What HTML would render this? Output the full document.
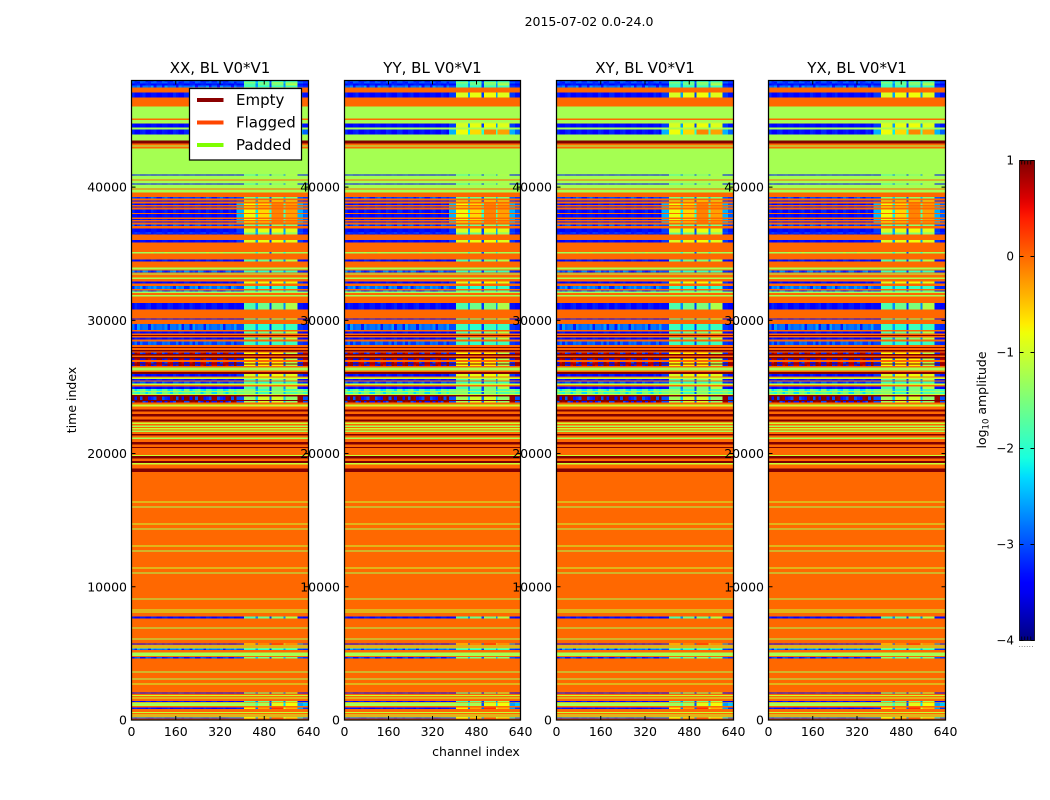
<!DOCTYPE html>
<html>
<head>
<meta charset="utf-8">
<title>2015-07-02 0.0-24.0</title>
<style>
html,body{margin:0;padding:0;background:#fff;width:1050px;height:800px;overflow:hidden}
svg{display:block}
text{font-family:"DejaVu Sans","Liberation Sans",sans-serif;fill:#000}
</style>
</head>
<body>
<svg id="fig" width="1050" height="800" viewBox="0 0 1050 800" xmlns="http://www.w3.org/2000/svg">
  <text x="589" y="26" font-size="12.5" text-anchor="middle">2015-07-02 0.0-24.0</text>
  <text transform="translate(76,400) rotate(-90)" font-size="12.5" text-anchor="middle">time index</text>
  <text x="476" y="756" font-size="12.5" text-anchor="middle">channel index</text>
</svg>
<script>
// Data: panels, axes
const panelTitles = ["XX, BL V0*V1", "YY, BL V0*V1", "XY, BL V0*V1", "YX, BL V0*V1"];
const channelTicks = [0, 160, 320, 480, 640];
const timeTicks = [0, 10000, 20000, 30000, 40000];
const legendLabels = ["Empty", "Flagged", "Padded"];
const legendColors = ["#8b0000", "#ff4500", "#7fff00"];
const colorbarTicks = [1, 0, -1, -2, -3, -4];
const colorbarLabels = ["1", "0", "\u22121", "\u22122", "\u22123", "\u22124"];
const colorbarMinor = [0.15, 0.35, 0.55, 0.75];

// Heatmap columns: fine cells below channel 380, then these channel edges
const fineCellChannels = 10;
const channelEdges = [380,406,449,457,499,507,550,557,600,620,640];

// Log10 amplitude for each band type: first ten values texture the fine cells, the rest fill channelEdges columns
const profileO = [0];
const profileG = [-1.25];
const profileE = [1];
const profileL = [-1.05];
const profileB = [-3.4,-3.25,-3.45,-3.2,-3.4,-3.3,-3.45,-3.25,-3.4,-3.2,-3.35,-1.8,-2.7,-1.6,-3.1,-1.5,-2.7,-1.2,-3.3,-3.4];
const profileC = [-2.9,-3.2,-2.7,-3.1,-2.8,-3.25,-2.9,-2.6,-3.1,-2.8,-3.0,-1.9,-2.6,-2.0,-3.1,-1.9,-2.6,-1.9,-3.1,-3.2];
const profileY = [-3.4,-3.3,-3.45,-3.3,-3.4,-3.2,-3.45,-3.3,-3.4,-3.3,-3.1,-0.95,-2.6,-0.85,-3.1,-0.8,-2.6,-0.9,-3.1,-3.3];
const profileH = [-3.4,-3.2,-3.45,-3.3,-3.4,-3.25,-3.45,-3.3,-3.3,-3.2,-2.5,-0.8,-2.2,-0.6,-2.0,-0.15,-1.8,-0.3,-2.5,-2.9];
const profileT = [-3.2,-2.9,-3.3,-3.0,-3.2,-2.8,-3.3,-3.0,-3.1,-2.9,-3.0,-1.5,-2.4,-1.6,-2.9,-1.4,-2.4,-1.5,-2.9,-3.1];
const profileW = [-1.7,-2.1,-1.5,-2.3,-1.6,-2.0,-1.5,-2.2,-1.7,-1.9,-1.6,-1.45,-2.5,-1.9,-3.0,-1.5,-2.4,-1.8,-1.6,-1.9];
const profileP = [-3.3,0.8,-3.0,0.9,-3.3,0.6,-3.2,0.9,-3.3,0.7,-3.2,-0.8,-2.9,-0.7,-3.2,-0.7,-2.9,-1.2,-3.2,0.8];
const profileR = [1,-3.3,0.9,-3.0,1,-3.2,0.9,1,-3.3,1,-3.0,-1.3,-2.4,-1.0,-2.9,-1.0,-2.4,-1.4,0.9,-3.0];
const profileN = [-1.25,-1.3,-1.25,-1.1,-1.25,-1.3,-1.25,-1.1,-1.3,-1.25,-1.2,-1.25,-2.0,-1.25,-3.0,-1.25,-2.0,-1.25,-1.3,-1.25];
const profileK = [-1.25,-1.25,-1.25,-1.25,-1.25,-1.25,-1.25,-1.25,-1.25,-1.25,-1.25,-1.3,-1.9,-1.25,-3.0,-0.9,-2.3,-0.8,-2.6,-2.4];
const profileQ = [-3.3,-3.2,-3.4,-3.3,-3.2,-3.4,-3.3,-3.2,-3.3,-3.4,-3.2,-0.7,-2.8,-0.3,-2.9,0.3,-1.0,-0.4,-2.6,-3.1];
const profiles = {O:profileO,G:profileG,E:profileE,L:profileL,B:profileB,C:profileC,Y:profileY,H:profileH,T:profileT,W:profileW,P:profileP,R:profileR,N:profileN,K:profileK,Q:profileQ};

// Time bands listed from index 48000 downward: type and length in time samples
const bandKinds = [
"C","T","B","C","O","Y","O","G","O","G",
"L","Y","G","H","G","E","O","G","O","G",
"B","G","O","G","B","G","O","G","O","T",
"O","Y","O","H","O","H","O","H","O","H",
"O","H","O","H","O","T","O","Y","T","B",
"O","Y","O","N","O","B","O","G","O","C",
"O","G","O","G","O","Y","O","C","O","C",
"G","O","G","O","B","O","B","O","C","O",
"B","O","E","O","B","O","C","O","E","O",
"E","O","P","E","O","E","P","O","P","E",
"P","O","G","O","E","Y","O","L","B","O",
"C","L","O","B","W","G","W","L","E","R",
"E","R","O","L","O","E","O","E","O","E",
"O","L","O","G","O","L","O","G","O","E",
"O","G","O","E","O","E","O","L","E","O",
"E","L","O","E","O","L","O","G","O","L",
"O","G","O","L","O","G","O","L","O","G",
"O","G","O","L","O","L","O","B","O","G",
"O","G","O","Q","O","L","O","L","C","O",
"G","O","T","O","G","O","G","O","L","O",
"B","O","L","O","L","O","B","O","K","O",
"Q","O","L","O","L","O","L","Q","O"];
const bandLengths = [
113,113,150,150,375,375,675,900,113,188,
75,300,150,375,450,225,150,75,150,1950,
75,300,75,225,75,300,75,225,338,113,
150,75,150,113,113,75,150,263,75,263,
113,75,113,75,150,113,188,300,75,75,
413,188,713,113,450,150,450,150,75,150,
75,75,225,113,188,150,188,225,113,75,
113,150,113,488,488,676,75,338,450,113,
150,113,75,113,150,150,263,150,75,150,
113,75,113,113,113,113,113,150,113,75,
113,113,225,113,150,188,75,113,113,75,
150,113,113,188,150,75,150,75,113,263,
75,113,150,150,225,150,188,188,225,150,
75,113,113,113,75,113,75,113,150,113,
150,113,225,188,188,75,525,75,188,188,
150,113,300,263,2212,75,300,75,1200,75,
300,75,1200,75,300,75,1200,75,300,75,
1875,75,750,75,75,75,300,150,675,75,
750,75,300,75,75,75,75,75,113,188,
263,75,113,975,75,450,75,300,75,600,
75,113,75,113,75,188,75,38,263,113,
113,225,75,113,75,75,75,75,150];

// Geometry
const SVGNS = "http://www.w3.org/2000/svg";
const fig = document.getElementById("fig");
const panelLefts = [131.5, 344.5, 556.5, 768.5];
const panelWidths = [177, 176, 177, 177];
const plotTop = 80.5, plotBottom = 720, cbTop = 160.5, cbBottom = 640.5, cbLeft = 1019.5, cbRight = 1034.5;
const channelMax = 640, timeMax = 48000;

function xScale(ch, p) { return panelLefts[p] + ch / channelMax * panelWidths[p]; }
function yScale(t) { return plotBottom - t / timeMax * (plotBottom - plotTop); }
function cbScale(v) { return cbBottom - (v + 4) / 5 * (cbBottom - cbTop); }

function jetChannel(x, pts) {
  for (let i = 1; i < pts.length; i++) {
    if (x <= pts[i][0]) {
      const a = pts[i - 1], b = pts[i];
      return a[1] + (b[1] - a[1]) * (x - a[0]) / (b[0] - a[0]);
    }
  }
  return pts[pts.length - 1][1];
}
const jetR = [[0,0],[0.35,0],[0.66,1],[0.89,1],[1,0.5]];
const jetG = [[0,0],[0.125,0],[0.375,1],[0.64,1],[0.91,0],[1,0]];
const jetB = [[0,0.5],[0.11,1],[0.34,1],[0.65,0],[1,0]];
function color(v) {
  const x = Math.max(0, Math.min(1, (v + 4) / 5));
  const r = Math.round(255 * jetChannel(x, jetR));
  const g = Math.round(255 * jetChannel(x, jetG));
  const b = Math.round(255 * jetChannel(x, jetB));
  return "rgb(" + r + "," + g + "," + b + ")";
}
function el(tag, attrs, parent) {
  const e = document.createElementNS(SVGNS, tag);
  for (const k in attrs) e.setAttribute(k, attrs[k]);
  parent.appendChild(e);
  return e;
}
function drawCell(parent, p, ch0, ch1, yTop, h, v) {
  const x0 = xScale(ch0, p), x1 = xScale(ch1, p);
  const r = el("rect", {x: x0, y: yTop, width: x1 - x0, height: h, fill: color(v)}, parent);
  
  
}

function drawPanel(p) {
  const left = panelLefts[p], panelW = panelWidths[p];
  const g = el("g", {}, fig);
  
  

  const cells = el("g", {"shape-rendering": "crispEdges"}, g);
  
  
  const bg = el("rect", {x: left, y: yScale(timeMax), width: panelW, height: plotBottom - plotTop, fill: color(0)}, cells);
  
  

  let t = timeMax;
  bandKinds.forEach(function (kind, i) {
    const next = Math.max(0, t - bandLengths[i]);
    const yTop = yScale(t), h = yScale(next) - yTop;
    const prof = profiles[kind];
    if (prof.length === 1) {
      drawCell(cells, p, 0, channelMax, yTop, h, prof[0]);
    } else {
      const fineCount = channelEdges[0] / fineCellChannels;
      for (let c = 0; c < fineCount; c++) {
        const idx = (c * (c + 1) / 2 + i * 3) % 10;
        drawCell(cells, p, c * fineCellChannels, (c + 1) * fineCellChannels, yTop, h, prof[idx]);
      }
      for (let c = 0; c < channelEdges.length - 1; c++) {
        drawCell(cells, p, channelEdges[c], channelEdges[c + 1], yTop, h, prof[c + 10]);
      }
    }
    t = next;
  });

  const frame = el("rect", {x: left, y: plotTop, width: panelW, height: plotBottom - plotTop, fill: "none", stroke: "#000", "stroke-width": 1.25}, g);
  
  

  const title = el("text", {x: left + panelW / 2, y: 73, "font-size": 15, "text-anchor": "middle"}, g);
  title.textContent = panelTitles[p];
  
  

  channelTicks.forEach(function (v) {
    const x = xScale(v, p);
    const a = el("path", {d: "M" + x + " " + plotBottom + "v-4M" + x + " " + plotTop + "v4", stroke: "#000", "stroke-width": 1, fill: "none"}, g);
    
    
    const l = el("text", {x: x, y: 736, "font-size": 12.5, "text-anchor": "middle"}, g);
    l.textContent = String(v);
    
    
  });
  timeTicks.forEach(function (v) {
    const y = yScale(v);
    const a = el("path", {d: "M" + left + " " + y + "h4M" + (left + panelW) + " " + y + "h-4", stroke: "#000", "stroke-width": 1, fill: "none"}, g);
    
    
    const l = el("text", {x: left - 4.5, y: y + 4.5, "font-size": 12.5, "text-anchor": "end"}, g);
    l.textContent = String(v);
    
    
  });
}
panelTitles.forEach(function (_, p) { drawPanel(p); });

// Legend
(function () {
  const g = el("g", {}, fig);
  
  
  const box = el("rect", {x: 189.5, y: 88.5, width: 112, height: 71.5, fill: "#fff", stroke: "#000", "stroke-width": 1.25}, g);
  
  
  legendLabels.forEach(function (label, i) {
    const yy = 100 + i * 22.5;
    const line = el("line", {x1: 197, x2: 223.5, y1: yy, y2: yy, stroke: legendColors[i], "stroke-width": 4}, g);
    
    
    const t = el("text", {x: 236, y: yy + 5.2, "font-size": 15}, g);
    t.textContent = label;
    
    
  });
})();

// Colorbar
(function () {
  const g = el("g", {}, fig);
  
  
  const defs = el("defs", {}, g);
  const grad = el("linearGradient", {id: "jetGrad", x1: 0, y1: 1, x2: 0, y2: 0}, defs);
  for (let i = 0; i <= 50; i++) {
    el("stop", {offset: (i / 50), "stop-color": color(-4 + 5 * i / 50)}, grad);
  }
  const bar = el("rect", {x: cbLeft, y: cbTop, width: cbRight - cbLeft, height: cbBottom - cbTop, fill: "url(#jetGrad)", stroke: "#000", "stroke-width": 0.8}, g);
  
  
  colorbarTicks.forEach(function (v, i) {
    const y = cbScale(v);
    const a = el("path", {d: "M" + cbLeft + " " + y + "h4M" + cbRight + " " + y + "h-4", stroke: "#000", "stroke-width": 1, fill: "none"}, g);
    
    
    const l = el("text", {x: 1014, y: y + 4, "font-size": 12, "text-anchor": "end"}, g);
    l.textContent = colorbarLabels[i];
    
    
  });
  colorbarMinor.forEach(function (f) {
    const x = cbLeft + f * (cbRight - cbLeft);
    const a = el("path", {d: "M" + x + " " + cbTop + "v4M" + x + " " + cbBottom + "v-4", stroke: "#000", "stroke-width": 0.8, fill: "none"}, g);
    
    
  });
  const dots = el("text", {x: 1026, y: 647, "font-size": 8, "text-anchor": "middle", style: "fill:#777"}, g);
  dots.textContent = "......";
  
  
  const lab = el("text", {transform: "translate(986,400) rotate(-90)", "font-size": 12.5, "text-anchor": "middle"}, g);
  
  
  const t1 = el("tspan", {}, lab);
  t1.textContent = "log";
  const t2 = el("tspan", {dy: 2.5, "font-size": 8.5}, lab);
  t2.textContent = "10";
  const t3 = el("tspan", {dy: -2.5}, lab);
  t3.textContent = " amplitude";
})();
</script>
</body>
</html>
